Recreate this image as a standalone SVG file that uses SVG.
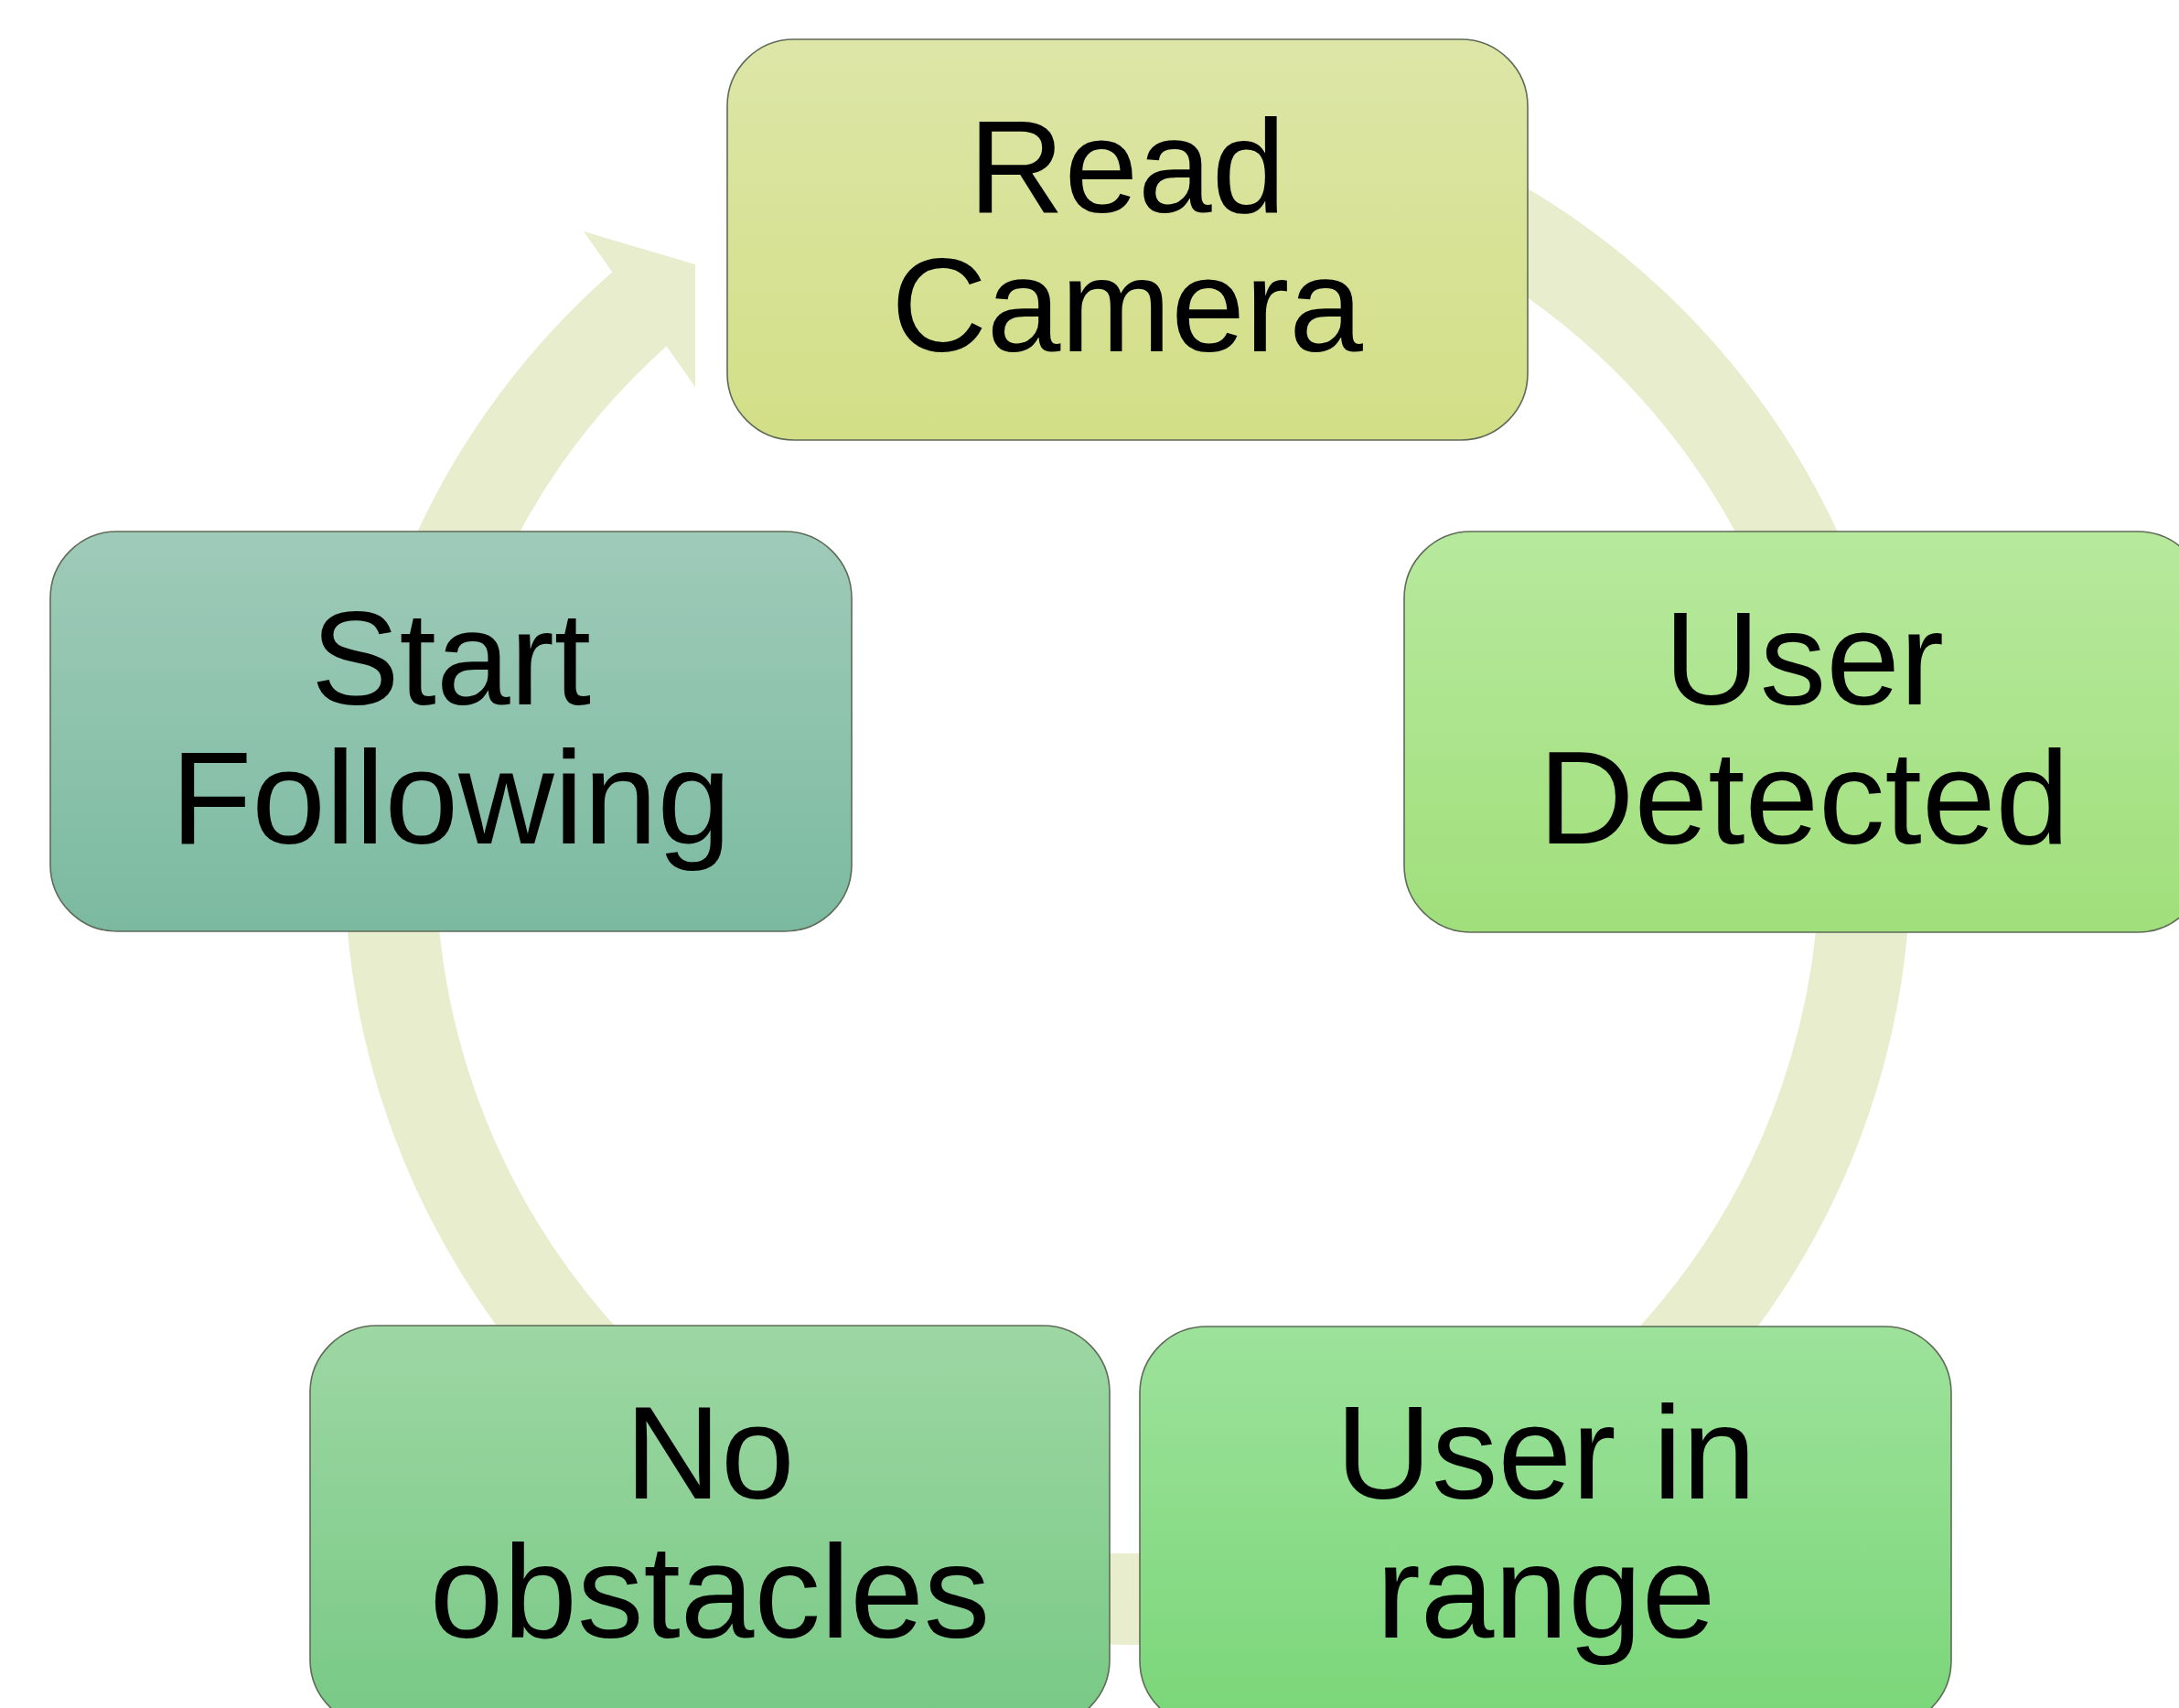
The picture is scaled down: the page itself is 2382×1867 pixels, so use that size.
<svg xmlns="http://www.w3.org/2000/svg" width="2382" height="1867" viewBox="0 0 2382 1867">
  <style>
    .box { stroke: #5f6b58; stroke-width: 1.6; }
    .lbl { font-family: "Liberation Sans", Arial, sans-serif; font-size: 145px; fill: #000000; text-anchor: middle; }
    .band { fill: none; stroke: #e7edcd; stroke-width: 100; stroke-linecap: butt; }
  </style>
  <defs>
    <linearGradient id="gRead" x1="0" y1="0" x2="0" y2="1">
      <stop offset="0" stop-color="#dde6a7"/>
      <stop offset="1" stop-color="#d2df86"/>
    </linearGradient>
    <linearGradient id="gDet" x1="0" y1="0" x2="0" y2="1">
      <stop offset="0" stop-color="#b7e99d"/>
      <stop offset="1" stop-color="#a0df7b"/>
    </linearGradient>
    <linearGradient id="gStart" x1="0" y1="0" x2="0" y2="1">
      <stop offset="0" stop-color="#9fcbb9"/>
      <stop offset="1" stop-color="#7bbaa0"/>
    </linearGradient>
    <linearGradient id="gNo" x1="0" y1="0" x2="0" y2="1">
      <stop offset="0" stop-color="#9dd7a3"/>
      <stop offset="1" stop-color="#78c985"/>
    </linearGradient>
    <linearGradient id="gRange" x1="0" y1="0" x2="0" y2="1">
      <stop offset="0" stop-color="#9de29b"/>
      <stop offset="1" stop-color="#7ad678"/>
    </linearGradient>
  </defs>
  <rect width="2382" height="1867" fill="#ffffff"/>

  <g id="connectors">
    <path class="band" d="M 1232 136 A 806 806 0 1 1 714 325"/>
    <polygon points="669,297 638,253 760,289 760,423 729,379" fill="#e7edcd"/>
  </g>

  <g id="node-read-camera">
    <rect class="box" x="795" y="43" width="875" height="438" rx="73" ry="73" fill="url(#gRead)"/>
    <text class="lbl" x="1232" y="232">Read</text>
    <text class="lbl" x="1232" y="384">Camera</text>
  </g>

  <g id="node-user-detected">
    <rect class="box" x="1535" y="581" width="875" height="438" rx="73" ry="73" fill="url(#gDet)"/>
    <text class="lbl" x="1972" y="770">User</text>
    <text class="lbl" x="1972" y="922">Detected</text>
  </g>

  <g id="node-user-in-range">
    <rect class="box" x="1246" y="1450" width="887" height="438" rx="73" ry="73" fill="url(#gRange)"/>
    <text class="lbl" x="1690" y="1638">User in</text>
    <text class="lbl" x="1690" y="1790">range</text>
  </g>

  <g id="node-no-obstacles">
    <rect class="box" x="339" y="1449" width="874" height="438" rx="73" ry="73" fill="url(#gNo)"/>
    <text class="lbl" x="776" y="1638">No</text>
    <text class="lbl" x="776" y="1790">obstacles</text>
  </g>

  <g id="node-start-following">
    <rect class="box" x="55" y="581" width="876" height="437" rx="73" ry="73" fill="url(#gStart)"/>
    <text class="lbl" x="493" y="770">Start</text>
    <text class="lbl" x="493" y="922">Following</text>
  </g>
</svg>
